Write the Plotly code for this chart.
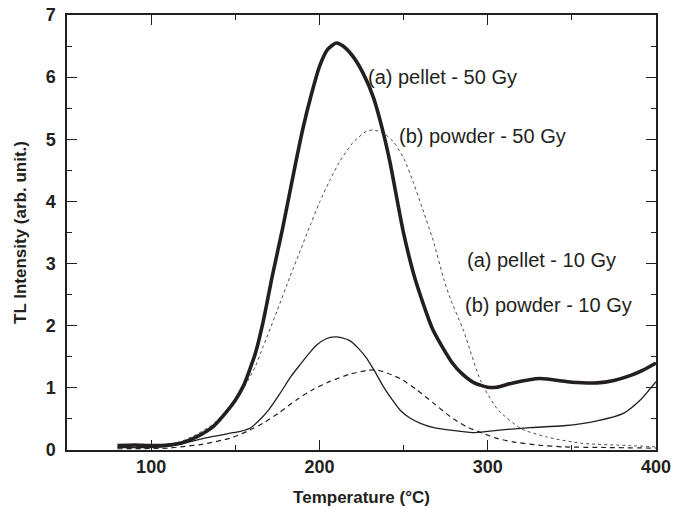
import plotly.graph_objects as go

# TL glow curves
t_pel50 = [80, 90, 100, 110, 120, 127, 137, 145, 150, 155, 158, 162, 166.6, 172, 178, 185, 190, 195, 200, 205, 210, 214, 220,
           226, 232, 238, 242, 250, 257, 267.5, 279, 285, 292, 300, 305, 315, 331, 350, 365, 375, 385, 392, 400]
i_pel50 = [0.07, 0.08, 0.07, 0.08, 0.13, 0.21, 0.38, 0.62, 0.8, 1.04, 1.25, 1.56, 2.07, 2.8, 3.55, 4.5, 5.15, 5.7, 6.17, 6.45, 6.55, 6.5, 6.33,
           6.06, 5.68, 5.1, 4.62, 3.49, 2.74, 1.93, 1.40, 1.22, 1.08, 1.01, 1.01, 1.08, 1.15, 1.09, 1.08, 1.12, 1.2, 1.28, 1.40]

t_pow50 = [80, 100, 110, 117, 127, 137, 147, 155, 162, 166.5, 175, 182.5, 188.5, 195, 200, 206, 212, 220, 228, 232,
           238, 244, 250, 256, 261, 267.5, 274, 278, 285.5, 296, 306, 320, 335, 355, 385, 400]
i_pow50 = [0.05, 0.06, 0.09, 0.13, 0.25, 0.42, 0.70, 1.0, 1.35, 1.66, 2.25, 2.79, 3.2, 3.65, 3.98, 4.33, 4.64, 4.95, 5.13, 5.15,
           5.1, 4.96, 4.7, 4.29, 3.9, 3.38, 2.74, 2.42, 1.93, 1.1, 0.65, 0.34, 0.21, 0.11, 0.07, 0.05]

t_pel10 = [80, 100, 107, 117, 127, 137, 147, 153, 158.7, 165, 170, 176.6, 183, 188.4, 194, 198.4, 204, 209.2, 213, 218,
           223, 228, 233, 238, 243, 248, 254, 260, 268, 277.6, 291, 300, 307, 325, 345, 365, 380.6, 390.5, 400]
i_pel10 = [0.04, 0.04, 0.05, 0.09, 0.16, 0.22, 0.27, 0.30, 0.35, 0.5, 0.65, 0.91, 1.18, 1.37, 1.56, 1.69, 1.79, 1.82, 1.81, 1.76,
           1.64, 1.48, 1.26, 1.02, 0.82, 0.64, 0.51, 0.43, 0.36, 0.32, 0.28, 0.30, 0.32, 0.36, 0.39, 0.47, 0.59, 0.80, 1.10]

t_pow10 = [80, 110, 117, 130, 147, 157, 166.5, 176, 186.5, 196, 206, 218, 228, 233, 238, 248, 257.8, 268, 277.6, 287,
           297, 305, 315, 330, 345, 370, 400]
i_pow10 = [0.02, 0.03, 0.05, 0.09, 0.19, 0.30, 0.43, 0.60, 0.81, 0.97, 1.10, 1.22, 1.28, 1.29, 1.26, 1.15, 0.97, 0.75, 0.54, 0.38,
           0.27, 0.19, 0.13, 0.08, 0.05, 0.04, 0.03]

labels = ["(a) pellet - 50 Gy", "(b) powder - 50 Gy", "(a) pellet - 10 Gy", "(b) powder - 10 Gy"]
label_x = [227.5, 246, 286.5, 285.5]
label_y = [6.0, 5.05, 3.06, 2.34]

fig = go.Figure()
fig.add_trace(go.Scatter(x=t_pow50, y=i_pow50, mode="lines",
                         line=dict(color="#4d4d4d", width=1, dash="dot", shape="spline", smoothing=0.6)))
fig.add_trace(go.Scatter(x=t_pow10, y=i_pow10, mode="lines",
                         line=dict(color="#231f20", width=1.2, dash="5px,4px", shape="spline", smoothing=0.6)))
fig.add_trace(go.Scatter(x=t_pel10, y=i_pel10, mode="lines",
                         line=dict(color="#231f20", width=1.3, shape="spline", smoothing=0.6)))
fig.add_trace(go.Scatter(x=t_pel50, y=i_pel50, mode="lines",
                         line=dict(color="#231f20", width=3.6, shape="spline", smoothing=0.6)))

for txt, lx, ly in zip(labels, label_x, label_y):
    fig.add_annotation(x=lx, y=ly, text=txt, showarrow=False, xanchor="left", yanchor="middle",
                       font=dict(size=20, color="#231f20", family="Arial, Liberation Sans"))

axis_common = dict(
    showgrid=False, zeroline=False, showline=True, linecolor="#231f20", linewidth=1.5, mirror="ticks",
    ticks="inside", ticklen=10, tickwidth=1.3, tickcolor="#231f20", automargin=False, ticklabeloverflow="allow",
    tickfont=dict(size=18, color="#231f20", family="Arial, Liberation Sans", weight="bold"),
)

fig.update_xaxes(range=[50, 400], dtick=100, tick0=0,
                 minor=dict(ticks="inside", ticklen=5, dtick=50, tickcolor="#231f20", tickwidth=1.3),
                 title=dict(text="Temperature (°C)", standoff=15,
                            font=dict(size=17, color="#231f20", family="Arial, Liberation Sans", weight="bold")),
                 **axis_common)
fig.update_yaxes(range=[0, 7], dtick=1, ticklabelstandoff=6,
                 minor=dict(ticks="inside", ticklen=5, dtick=0.5, tickcolor="#231f20", tickwidth=1.3),
                 title=dict(text="TL Intensity (arb. unit.)", standoff=15,
                            font=dict(size=17, color="#231f20", family="Arial, Liberation Sans", weight="bold")),
                 **axis_common)

fig.update_layout(width=684, height=508, margin=dict(l=67, r=28, t=15, b=58),
                  plot_bgcolor="white", paper_bgcolor="white", showlegend=False)

# drop the default page margin so the figure sits at the window's corner
fig.write_html("out.html", config={"displayModeBar": False},
               post_script="document.body.style.margin='0';")
